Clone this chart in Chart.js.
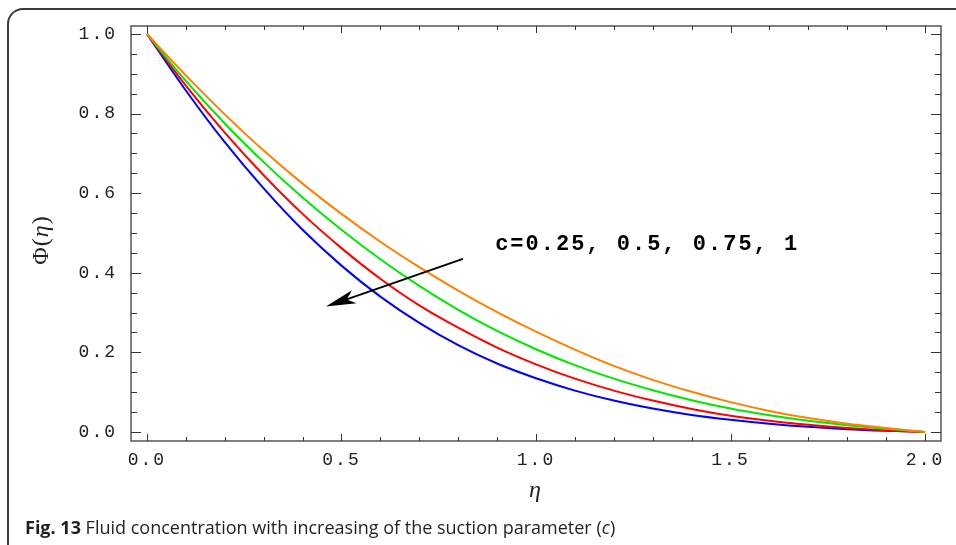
<!DOCTYPE html>
<html><head><meta charset="utf-8">
<script src="https://cdn.jsdelivr.net/npm/chart.js@4.4.0/dist/chart.umd.min.js"></script>
<style>
html,body{margin:0;padding:0;background:#fff;width:956px;height:545px;overflow:hidden;}
#wrap{position:relative;width:956px;height:545px;}
#frame{position:absolute;left:7px;top:8px;width:990px;height:600px;border-top:2px solid #3a3a3a;border-left:2px solid #3a3a3a;border-top-left-radius:16px;}
canvas{position:absolute;left:0;top:0;}
#cap{position:absolute;left:25px;top:515px;font-family:'Open Sans';font-size:18px;line-height:24px;color:#231f20;white-space:nowrap;}
</style></head>
<body><div id="wrap"><div id="frame"></div><canvas id="c" width="956" height="545"></canvas>
<div id="cap"><b>Fig. 13</b> Fluid concentration with increasing of the suction parameter (<i>c</i>)</div></div>
<script>
// ---- data ----
const etaValues = [0,0.1,0.2,0.3,0.4,0.5,0.6,0.7,0.8,0.9,1.0,1.1,1.2,1.3,1.4,1.5,1.6,1.7,1.8,1.9,2.0];
const phiC025 = [1,0.896,0.798,0.707,0.624,0.548,0.478,0.414,0.355,0.301,0.252,0.207,0.166,0.131,0.101,0.075,0.053,0.035,0.021,0.010,0];
const phiC05  = [1,0.882,0.775,0.678,0.589,0.508,0.434,0.367,0.307,0.254,0.208,0.168,0.134,0.105,0.080,0.059,0.042,0.028,0.017,0.008,0];
const phiC075 = [1,0.870,0.752,0.645,0.548,0.462,0.385,0.318,0.262,0.212,0.170,0.134,0.104,0.079,0.058,0.041,0.028,0.018,0.010,0.004,0];
const phiC1   = [1,0.858,0.728,0.612,0.508,0.418,0.340,0.274,0.218,0.172,0.135,0.104,0.079,0.059,0.043,0.031,0.021,0.013,0.007,0.003,0];
const xTickLabels = [0,0.5,1.0,1.5,2.0];
const yTickLabels = [0,0.2,0.4,0.6,0.8,1.0];
const annotationText = 'c=0.25, 0.5, 0.75, 1';

const xMinor = []; for (let i = 0; i <= 20; i++) xMinor.push(i / 10);
const yMinor = []; for (let i = 0; i <= 20; i++) yMinor.push(i / 20);

const series = [
  {label:'c=0.25', data:phiC025, color:'#ff8000'},
  {label:'c=0.5',  data:phiC05,  color:'#00e600'},
  {label:'c=0.75', data:phiC075, color:'#ff0000'},
  {label:'c=1',    data:phiC1,   color:'#0000ff'}
];

const decor = {
  id:'decor',
  beforeDraw(chart){ chart.ctx.letterSpacing = '2px'; },
  beforeDatasetsDraw(chart){
    const {ctx, chartArea:a, scales:{x, y}} = chart;
    ctx.save();
    ctx.strokeStyle = '#555'; ctx.lineWidth = 1.5;
    ctx.strokeRect(a.left, a.top, a.right - a.left, a.bottom - a.top);
    ctx.strokeStyle = '#333'; ctx.lineWidth = 1;
    ctx.beginPath();
    xMinor.forEach((v, i) => {
      const px = Math.round(x.getPixelForValue(v)) + 0.5;
      const len = (i % 5 === 0) ? 7 : 4;
      ctx.moveTo(px, a.bottom); ctx.lineTo(px, a.bottom - len);
      ctx.moveTo(px, a.top); ctx.lineTo(px, a.top + len);
    });
    yMinor.forEach((v, i) => {
      const py = Math.round(y.getPixelForValue(v)) + 0.5;
      const len = (i % 4 === 0) ? 10 : 6;
      ctx.moveTo(a.left, py); ctx.lineTo(a.left + len, py);
      ctx.moveTo(a.right, py); ctx.lineTo(a.right - len, py);
    });
    ctx.stroke();
    ctx.restore();
  },
  afterDraw(chart){
    const {ctx, scales:{x, y}} = chart;
    ctx.save();
    // arrow
    const sx = x.getPixelForValue(0.812), sy = y.getPixelForValue(0.435);
    const tx = x.getPixelForValue(0.460), ty = y.getPixelForValue(0.315);
    const dx = tx - sx, dy = ty - sy, L = Math.hypot(dx, dy);
    const ux = dx / L, uy = dy / L, nx = -uy, ny = ux;
    const hl = 30, hw = 7, notch = 22;
    ctx.strokeStyle = '#000'; ctx.fillStyle = '#000'; ctx.lineWidth = 2;
    ctx.beginPath(); ctx.moveTo(sx, sy); ctx.lineTo(tx - ux * notch, ty - uy * notch); ctx.stroke();
    ctx.beginPath();
    ctx.moveTo(tx, ty);
    ctx.lineTo(tx - ux * hl + nx * hw, ty - uy * hl + ny * hw);
    ctx.lineTo(tx - ux * notch, ty - uy * notch);
    ctx.lineTo(tx - ux * hl - nx * hw, ty - uy * hl - ny * hw);
    ctx.closePath(); ctx.fill();
    // annotation
    ctx.letterSpacing = '2px';
    ctx.font = 'bold 22px "Liberation Mono"';
    ctx.textBaseline = 'middle'; ctx.textAlign = 'left';
    ctx.fillText(annotationText, x.getPixelForValue(0.895), y.getPixelForValue(0.472));
    // y title  Φ(η)
    ctx.letterSpacing = '1px';
    ctx.translate(42, 240); ctx.rotate(-Math.PI / 2);
    const parts = [['Φ(', 'normal'], ['η', 'italic'], [')', 'normal']];
    let total = 0;
    parts.forEach(p => { ctx.font = p[1] + ' 24px "Liberation Serif"'; total += ctx.measureText(p[0]).width; });
    let cx = -total / 2;
    ctx.fillStyle = '#222';
    parts.forEach(p => { ctx.font = p[1] + ' 24px "Liberation Serif"'; ctx.fillText(p[0], cx, 0); cx += ctx.measureText(p[0]).width; });
    ctx.restore();
    ctx.letterSpacing = '0px';
  }
};

new Chart(document.getElementById('c'), {
  type:'line',
  data:{
    datasets: series.map(s => ({
      label:s.label,
      data: etaValues.map((e, i) => ({x:e, y:s.data[i]})),
      borderColor:s.color, backgroundColor:s.color,
      borderWidth:2, pointRadius:0, fill:false,
      cubicInterpolationMode:'monotone'
    }))
  },
  options:{
    responsive:false, animation:false, devicePixelRatio:1,
    layout:{padding:{left:0, top:26, right:15, bottom:0}},
    plugins:{legend:{display:false}, tooltip:{enabled:false}},
    scales:{
      x:{
        type:'linear', min:-0.041, max:2.041,
        afterBuildTicks: s => { s.ticks = xTickLabels.map(v => ({value:v})); },
        afterFit: s => { s.height = 104; },
        grid:{display:false, drawTicks:false, tickLength:0}, border:{display:false},
        ticks:{font:{family:'Liberation Mono', size:18}, color:'#222', padding:8, maxRotation:0, autoSkip:false,
               callback: v => Number(v).toFixed(1)},
        title:{display:true, text:'η', color:'#222', font:{family:'Liberation Serif', size:24, style:'italic'}, padding:{top:0, bottom:40}}
      },
      y:{
        type:'linear', min:-0.0226, max:1.02,
        afterBuildTicks: s => { s.ticks = yTickLabels.map(v => ({value:v})); },
        afterFit: s => { s.width = 131; },
        grid:{display:false, drawTicks:false, tickLength:0}, border:{display:false},
        ticks:{font:{family:'Liberation Mono', size:18}, color:'#222', padding:14, autoSkip:false,
               callback: v => Number(v).toFixed(1)}
      }
    }
  },
  plugins:[decor]
});
</script>
</body></html>
